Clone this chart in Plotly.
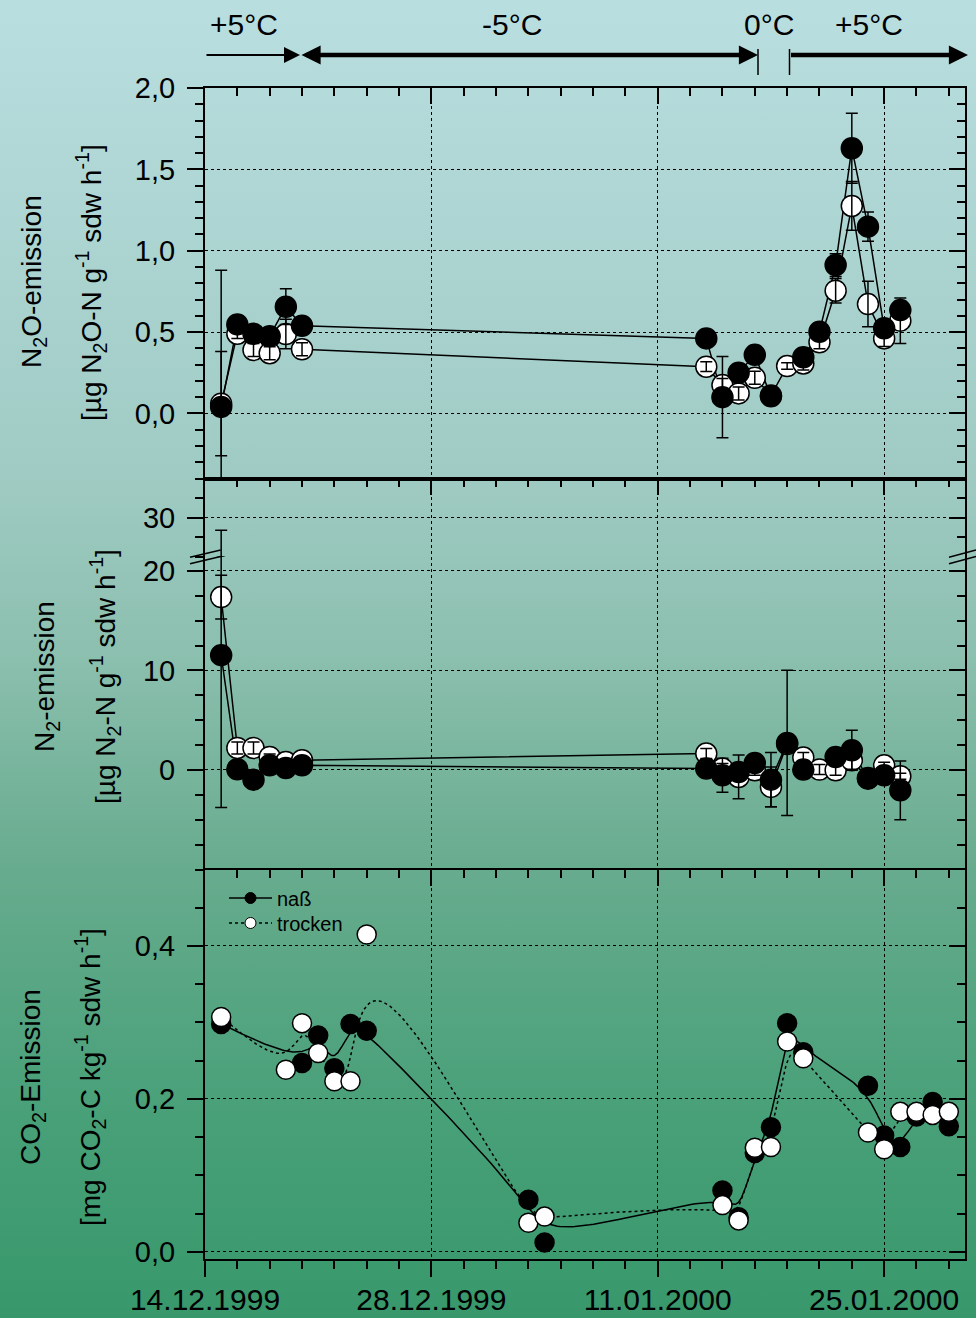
import base64
import numpy as np
import pandas as pd
import plotly.graph_objects as go

# ---------------- data ----------------
N_DATES = ["1999-12-15", "1999-12-16", "1999-12-17", "1999-12-18", "1999-12-19", "1999-12-20",
           "2000-01-14", "2000-01-15", "2000-01-16", "2000-01-17", "2000-01-18", "2000-01-19",
           "2000-01-20", "2000-01-21", "2000-01-22", "2000-01-23", "2000-01-24", "2000-01-25",
           "2000-01-26"]

N2O_NASS = [0.04, 0.547, 0.49, 0.475, 0.656, 0.539, 0.461, 0.10, 0.25, 0.36, 0.105, None,
            0.345, 0.502, 0.912, 1.63, 1.148, 0.523, 0.635]
N2O_NASS_ERR = [0.84, 0.03, 0.03, 0.03, 0.11, 0.03, 0.03, 0.25, 0.03, 0.03, 0.03, 0,
                0.03, 0.04, 0.07, 0.215, 0.09, 0.04, 0.05]
N2O_TROCKEN = [0.06, 0.49, 0.39, 0.37, 0.488, 0.394, 0.287, 0.174, 0.123, 0.219, 0.11, 0.291,
               0.307, 0.437, 0.754, 1.275, 0.672, 0.461, 0.57]
N2O_TROCKEN_ERR = [0.32, 0.03, 0.04, 0.04, 0.09, 0.04, 0.03, 0.04, 0.04, 0.04, 0.02, 0.02,
                   0.04, 0.04, 0.075, 0.15, 0.14, 0.05, 0.14]

N2_NASS = [11.54, 0.07, -0.97, 0.47, 0.2, 0.47, 0.14, -0.53, -0.2, 0.7, -0.97, 2.72,
           0.04, None, 1.31, 1.98, -0.87, -0.53, -2.04]
N2_NASS_ERR = [15.3, 0.3, 0.3, 0.3, 0.3, 0.3, 0.3, 1.7, 0.3, 0.3, 2.73, 7.3,
               0.3, 0, 0.3, 2.0, 0.3, 0.3, 2.95]
N2_TROCKEN = [17.37, 2.21, 2.21, 1.31, 0.8, 0.98, 1.65, 0.14, -0.7, -0.03, -1.7, 2.6,
              1.25, 0.04, -0.03, 0.98, -0.8, 0.47, -0.63]
N2_TROCKEN_ERR = [2.2, 0.6, 0.6, 0.3, 0.3, 0.3, 0.5, 0.5, 2.2, 0.5, 2.0, 0.3,
                  0.5, 0.5, 0.5, 0.9, 0.3, 0.3, 0.3]

CO2_DATES = ["1999-12-15", "1999-12-19", "1999-12-20", "1999-12-21", "1999-12-22", "1999-12-23",
             "1999-12-24", "2000-01-03", "2000-01-04", "2000-01-15", "2000-01-16", "2000-01-17",
             "2000-01-18", "2000-01-19", "2000-01-20", "2000-01-24", "2000-01-25", "2000-01-26",
             "2000-01-27", "2000-01-28", "2000-01-29"]
CO2_NASS = [0.298, None, 0.247, 0.283, 0.240, 0.298, 0.289, 0.068, 0.012, 0.080, 0.045, 0.129,
            0.163, 0.299, 0.261, 0.217, 0.152, 0.137, 0.177, 0.196, 0.164]
CO2_TROCKEN = [0.307, 0.238, 0.299, 0.260, 0.223, 0.223, 0.415, 0.038, 0.046, 0.061, 0.041, 0.136,
               0.137, 0.275, 0.253, 0.156, 0.134, 0.183, 0.183, 0.179, 0.183]

X_RANGE = ["1999-12-14", "2000-01-30"]
SERIES_NAMES = ["naß", "trocken"]
TEMP_LABELS = ["+5°C", "-5°C", "0°C", "+5°C"]

FONT = "Liberation Sans, Arial, Helvetica, sans-serif"
DAY_MS = 86400000


def bspline(dates, values, steps=30):
    """Uniform cubic B-spline using the data points as control points (Origin 'B-Spline' line)."""
    pts = [(pd.Timestamp(d), v) for d, v in zip(dates, values) if v is not None]
    t0 = pts[0][0]
    xs = np.array([(d - t0) / pd.Timedelta(days=1) for d, _ in pts], dtype=float)
    ys = np.array([v for _, v in pts], dtype=float)
    xs = np.concatenate([[xs[0]] * 2, xs, [xs[-1]] * 2])
    ys = np.concatenate([[ys[0]] * 2, ys, [ys[-1]] * 2])
    t = np.linspace(0, 1, steps, endpoint=False)
    b0 = (1 - t) ** 3 / 6
    b1 = (3 * t ** 3 - 6 * t ** 2 + 4) / 6
    b2 = (-3 * t ** 3 + 3 * t ** 2 + 3 * t + 1) / 6
    b3 = t ** 3 / 6
    cx, cy = [], []
    for i in range(len(xs) - 3):
        cx.append(b0 * xs[i] + b1 * xs[i + 1] + b2 * xs[i + 2] + b3 * xs[i + 3])
        cy.append(b0 * ys[i] + b1 * ys[i + 1] + b2 * ys[i + 2] + b3 * ys[i + 3])
    cx.append(np.array([xs[-1]]))
    cy.append(np.array([ys[-1]]))
    cx = np.concatenate(cx)
    cy = np.concatenate(cy)
    return [t0 + pd.Timedelta(days=float(v)) for v in cx], cy


fig = go.Figure()


def lines(x, y, xa, ya, dash="solid"):
    fig.add_trace(go.Scatter(x=x, y=y, mode="lines", xaxis=xa, yaxis=ya, showlegend=False,
                             hoverinfo="skip", connectgaps=False,
                             line=dict(color="black", width=1.5, dash=dash)))


def markers(x, y, xa, ya, fill, size=21):
    fig.add_trace(go.Scatter(x=x, y=y, mode="markers", xaxis=xa, yaxis=ya, showlegend=False,
                             marker=dict(symbol="circle", size=size, color=fill,
                                         line=dict(color="black", width=1.5))))


def errbars(x, y, err, xa, ya):
    fig.add_trace(go.Scatter(x=x, y=y, mode="markers", xaxis=xa, yaxis=ya, showlegend=False,
                             hoverinfo="skip",
                             marker=dict(size=1, color="rgba(0,0,0,0)"),
                             error_y=dict(type="data", array=err, color="black",
                                          thickness=1.5, width=6, visible=True)))


# ---- top panel: N2O ----
lines(N_DATES, N2O_TROCKEN, "x", "y")
lines(N_DATES, N2O_NASS, "x", "y")
markers(N_DATES, N2O_TROCKEN, "x", "y", "white")
markers(N_DATES, N2O_NASS, "x", "y", "black")
errbars(N_DATES, N2O_TROCKEN, N2O_TROCKEN_ERR, "x", "y")
errbars(N_DATES, N2O_NASS, N2O_NASS_ERR, "x", "y")

# ---- middle panel: N2 (broken axis, two segments) ----
for ya in ("y3", "y2"):
    lines(N_DATES, N2_TROCKEN, "x2", ya)
    lines(N_DATES, N2_NASS, "x2", ya)
    markers(N_DATES, N2_TROCKEN, "x2", ya, "white")
    markers(N_DATES, N2_NASS, "x2", ya, "black")
    errbars(N_DATES, N2_TROCKEN, N2_TROCKEN_ERR, "x2", ya)
    errbars(N_DATES, N2_NASS, N2_NASS_ERR, "x2", ya)

# ---- bottom panel: CO2 ----
bx, by = bspline(CO2_DATES, CO2_TROCKEN)
lines(bx, by, "x3", "y5", dash="dot")
bx, by = bspline(CO2_DATES, CO2_NASS)
lines(bx, by, "x3", "y5")
markers(CO2_DATES, CO2_NASS, "x3", "y5", "black", size=19)
markers(CO2_DATES, CO2_TROCKEN, "x3", "y5", "white", size=19)

# legend entries (one legend per row so the rows sit where the reference has them)
fig.add_trace(go.Scatter(x=[None], y=[None], mode="lines+markers", name=SERIES_NAMES[0],
                         xaxis="x3", yaxis="y5", legend="legend",
                         line=dict(color="black", width=1.5),
                         marker=dict(size=11, color="black", line=dict(color="black", width=1))))
fig.add_trace(go.Scatter(x=[None], y=[None], mode="lines+markers", name=SERIES_NAMES[1],
                         xaxis="x3", yaxis="y5", legend="legend2",
                         line=dict(color="black", width=1.5, dash="dot"),
                         marker=dict(size=11, color="white", line=dict(color="black", width=1))))

# ---------------- axes ----------------
TOP = 88
BOT = 1259
H = BOT - TOP


def py(p):
    return (BOT - p) / H


def px(p):
    return (p - 205) / 760


D_TOP = [py(478.5), 1.0]
D_MID_U = [py(557), py(478.5)]
D_MID_L = [py(869.5), py(557)]
D_BOT = [0.0, py(869.5)]

tickfont = dict(family=FONT, size=29, color="black")


def xaxis(anchor, side, ticks, labels=False, grid=True, overlaying=None, mirror=False):
    d = dict(type="date", range=X_RANGE, anchor=anchor, side=side, domain=[0, 1],
             tickmode="linear", tick0="1999-12-14", dtick=14 * DAY_MS,
             ticks=ticks, ticklen=16, tickwidth=1.5, tickcolor="black",
             showticklabels=labels, tickformat="%d.%m.%Y",
             tickfont=dict(family=FONT, size=30, color="black"), ticklabelstandoff=-3,
             showgrid=grid, gridcolor="black", griddash="dot", gridwidth=1,
             minor=dict(tickmode="linear", tick0="1999-12-14", dtick=2 * DAY_MS, ticks=ticks,
                        ticklen=8, tickwidth=1.5, tickcolor="black", showgrid=False),
             showline=True, linecolor="black", linewidth=2, mirror=mirror, zeroline=False,
             automargin=False, fixedrange=True)
    if overlaying:
        d["overlaying"] = overlaying
    return d


def yaxis(domain, rng, tickvals, ticktext, minor_dtick, anchor, side="left", ticks="outside",
          labels=True, grid=True, overlaying=None, showline=True):
    d = dict(domain=domain, range=rng, anchor=anchor, side=side,
             tickmode="array", tickvals=tickvals, ticktext=ticktext,
             ticks=ticks, ticklen=16, tickwidth=1.5, tickcolor="black",
             showticklabels=labels, tickfont=tickfont, ticklabelstandoff=6,
             showgrid=grid, gridcolor="black", griddash="dot", gridwidth=1,
             minor=dict(tickmode="linear", tick0=0, dtick=minor_dtick, ticks=ticks, ticklen=8,
                        tickwidth=1.5, tickcolor="black", showgrid=False),
             showline=showline, linecolor="black", linewidth=2, mirror=showline,
             zeroline=False, automargin=False, fixedrange=True)
    if overlaying:
        d["overlaying"] = overlaying
    return d


N2O_TICKS = [0, 0.5, 1.0, 1.5, 2.0]
N2O_TICKTEXT = ["0,0", "0,5", "1,0", "1,5", "2,0"]
CO2_TICKS = [0, 0.2, 0.4]
CO2_TICKTEXT = ["0,0", "0,2", "0,4"]

layout_axes = dict(
    xaxis=xaxis("y", "top", "inside", mirror=True),
    xaxis2=xaxis("y2", "top", "inside"),
    xaxis3=xaxis("y5", "bottom", "outside", labels=True),
    xaxis4=xaxis("y5", "top", "inside", grid=False, overlaying="x3"),
    yaxis=yaxis(D_TOP, [-0.4, 2.0], N2O_TICKS, N2O_TICKTEXT, 0.1, "x"),
    yaxis4=yaxis(D_TOP, [-0.4, 2.0], N2O_TICKS, N2O_TICKTEXT, 0.1, "x", side="right",
                 ticks="inside", labels=False, grid=False, overlaying="y", showline=False),
    yaxis2=yaxis(D_MID_U, [20, 40], [30], ["30"], 5, "x2"),
    yaxis6=yaxis(D_MID_U, [20, 40], [30], ["30"], 5, "x2", side="right",
                 ticks="inside", labels=False, grid=False, overlaying="y2", showline=False),
    yaxis3=yaxis(D_MID_L, [-10, 21.4], [0, 10, 20], ["0", "10", "20"], 2.5, "x2"),
    yaxis7=yaxis(D_MID_L, [-10, 21.4], [0, 10, 20], ["0", "10", "20"], 2.5, "x2", side="right",
                 ticks="inside", labels=False, grid=False, overlaying="y3", showline=False),
    yaxis5=yaxis(D_BOT, [-0.0095, 0.5], CO2_TICKS, CO2_TICKTEXT, 0.05, "x3"),
    yaxis8=yaxis(D_BOT, [-0.0095, 0.5], CO2_TICKS, CO2_TICKTEXT, 0.05, "x3", side="right",
                 ticks="inside", labels=False, grid=False, overlaying="y5", showline=False),
)

# placeholder traces so overlay axes are drawn
for xa, ya in (("x", "y4"), ("x2", "y6"), ("x2", "y7"), ("x4", "y8")):
    fig.add_trace(go.Scatter(x=[None], y=[None], xaxis=xa, yaxis=ya, showlegend=False,
                             hoverinfo="skip", mode="markers"))


# ---------------- annotations ----------------
ann = []
title_font = dict(family=FONT, size=28, color="black")
titles = [
    ("N<sub>2</sub>O-emission", 33, 282),
    ("[µg N<sub>2</sub>O-N g<sup>-1</sup> sdw h<sup>-1</sup>]", 91, 283),
    ("N<sub>2</sub>-emission", 47, 677),
    ("[µg N<sub>2</sub>-N g<sup>-1</sup> sdw h<sup>-1</sup>]", 105, 677),
    ("CO<sub>2</sub>-Emission", 32, 1077),
    ("[mg CO<sub>2</sub>-C kg<sup>-1</sup> sdw h<sup>-1</sup>]", 90, 1077),
]
for text, cx, cy in titles:
    ann.append(dict(text=text, x=px(cx), y=py(cy), xref="paper", yref="paper",
                    xanchor="center", yanchor="middle", textangle=-90, showarrow=False,
                    font=title_font))

for text, cx in zip(TEMP_LABELS, [243.6, 512, 769, 869]):
    ann.append(dict(text=text, x=px(cx), y=py(24), xref="paper", yref="paper",
                    xanchor="center", yanchor="middle", showarrow=False,
                    font=dict(family=FONT, size=30, color="black")))

ya = py(55)
ann.append(dict(text="", x=px(300), y=ya, xref="paper", yref="paper", ax=-95, ay=0,
                showarrow=True, arrowhead=2, arrowsize=1.6, arrowwidth=2, arrowcolor="black",
                standoff=0))
ann.append(dict(text="", x=px(758), y=ya, xref="paper", yref="paper", ax=-458, ay=0,
                showarrow=True, arrowside="end+start", arrowhead=2, startarrowhead=2,
                arrowsize=0.85, startarrowsize=0.85, arrowwidth=4.5, arrowcolor="black",
                standoff=0, startstandoff=0))
ann.append(dict(text="", x=px(968), y=ya, xref="paper", yref="paper", ax=-178.5, ay=0,
                showarrow=True, arrowhead=2, arrowsize=0.85, arrowwidth=4.5, arrowcolor="black",
                standoff=0))

# ---------------- shapes ----------------
shapes = []
for xv in (758, 789.5):
    shapes.append(dict(type="line", xref="paper", yref="paper", x0=px(xv), x1=px(xv),
                       y0=py(49), y1=py(75), line=dict(color="black", width=1.5)))
for x0, x1 in ((190, 220.7), (949, 976)):
    for dy in (0, 6.5):
        shapes.append(dict(type="line", xref="paper", yref="paper", x0=px(x0), x1=px(x1),
                           y0=py(557.3 + dy), y1=py(550 + dy),
                           line=dict(color="black", width=1.5)))

# ---------------- background gradient ----------------
svg = ('<svg xmlns="http://www.w3.org/2000/svg" width="1016" height="1358" '
       'preserveAspectRatio="none"><defs><linearGradient id="g" x1="0" y1="0" x2="0" y2="1">'
       '<stop offset="0" stop-color="#badfe1"/>'
       '<stop offset="0.36" stop-color="#a0cbc4"/>'
       '<stop offset="0.5" stop-color="#8bbfae"/>'
       '<stop offset="0.66" stop-color="#66ab8d"/>'
       '<stop offset="0.82" stop-color="#4aa17a"/>'
       '<stop offset="1" stop-color="#36976a"/>'
       '</linearGradient></defs><rect width="1016" height="1358" fill="url(#g)"/></svg>')
src = "data:image/svg+xml;base64," + base64.b64encode(svg.encode()).decode()

legend_common = dict(xanchor="left", yanchor="middle", bgcolor="rgba(0,0,0,0)", borderwidth=0,
                     font=dict(family=FONT, size=20, color="black"),
                     tracegroupgap=0, itemwidth=43)

fig.update_layout(
    width=976, height=1318,
    margin=dict(l=205, r=11, t=88, b=59, pad=0, autoexpand=False),
    paper_bgcolor="#6fae95", plot_bgcolor="rgba(0,0,0,0)",
    font=dict(family=FONT, color="black"),
    separators=",.",
    showlegend=True,
    legend=dict(x=px(224), y=py(898), **legend_common),
    legend2=dict(x=px(224), y=py(923), **legend_common),
    annotations=ann,
    shapes=shapes,
    images=[dict(source=src, xref="paper", yref="paper", x=px(-20), y=py(-20),
                 sizex=1016 / 760, sizey=1358 / H, xanchor="left", yanchor="top",
                 sizing="stretch", layer="below")],
    **layout_axes,
)

fig.write_html("out.html")
